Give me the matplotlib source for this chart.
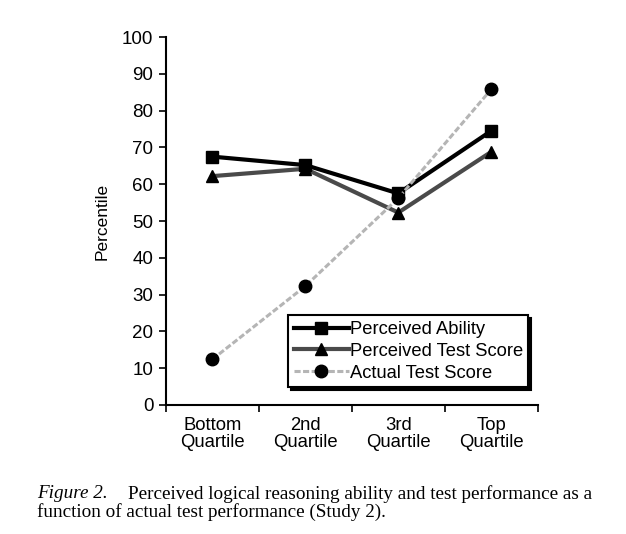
import matplotlib.pyplot as plt
import numpy as np

categories = ['Bottom\nQuartile', '2nd\nQuartile', '3rd\nQuartile', 'Top\nQuartile']
perceived_ability = [67.5, 65.2, 57.5, 74.5]
perceived_test = [62.2, 64.2, 52.3, 68.8]
actual_test = [12.4, 32.3, 56.2, 85.8]
yticks = np.arange(0, 101, 10)

plt.rcParams['font.family'] = ['Liberation Sans', 'DejaVu Sans']

fig = plt.figure(figsize=(6.26, 5.34), dpi=100)
ax = fig.add_axes([0.265, 0.2416, 0.594, 0.689])

x = np.arange(len(categories))
ax.plot(x, perceived_ability, color='black', lw=3, marker='s', ms=8,
        mfc='black', mec='black', label='Perceived Ability', zorder=3)
ax.plot(x, perceived_test, color='#4a4a4a', lw=3, marker='^', ms=8,
        mfc='black', mec='black', label='Perceived Test Score', zorder=2)
ax.plot(x, actual_test, color='#b5b5b5', lw=2.2, ls=(0, (2, 0.8)), marker='o',
        ms=9, mfc='black', mec='black', label='Actual Test Score', zorder=4)

ax.set_xlim(-0.5, 3.5)
ax.set_ylim(0, 100)
ax.set_yticks(yticks)
ax.set_xticks(x)
ax.set_xticklabels(categories, fontsize=13.3, linespacing=1.0)
ax.set_xticks(np.arange(-0.5, 3.6, 1), minor=True)
ax.tick_params(axis='x', which='major', length=0, pad=9)
ax.tick_params(axis='x', which='minor', length=5, width=1.2, direction='out')
ax.tick_params(axis='y', length=5, width=1.2, labelsize=13.5, pad=4)
ax.set_ylabel('Percentile', fontsize=12.5, labelpad=9)

for s in ['top', 'right']:
    ax.spines[s].set_visible(False)
for s in ['left', 'bottom']:
    ax.spines[s].set_linewidth(1.5)

leg = ax.legend(loc='lower right', bbox_to_anchor=(0.975, 0.048), fontsize=13.2,
                frameon=True, fancybox=False, shadow={'color': 'black', 'alpha': 1},
                handlelength=3.0, handletextpad=0.05, borderpad=0.3,
                labelspacing=0.27, borderaxespad=0)
leg.get_frame().set_edgecolor('black')
leg.get_frame().set_linewidth(1.5)

serif = ['Liberation Serif', 'DejaVu Serif']
fig.text(0.059, 1 - 494 / 534, 'Figure 2.', fontsize=13.8, style='italic',
         family=serif, va='center')
fig.text(0.204, 1 - 494 / 534,
         'Perceived logical reasoning ability and test performance as a',
         fontsize=13.8, family=serif, va='center')
fig.text(0.059, 1 - 512 / 534, 'function of actual test performance (Study 2).',
         fontsize=13.8, family=serif, va='center')

fig.savefig('out.png', dpi=100)
